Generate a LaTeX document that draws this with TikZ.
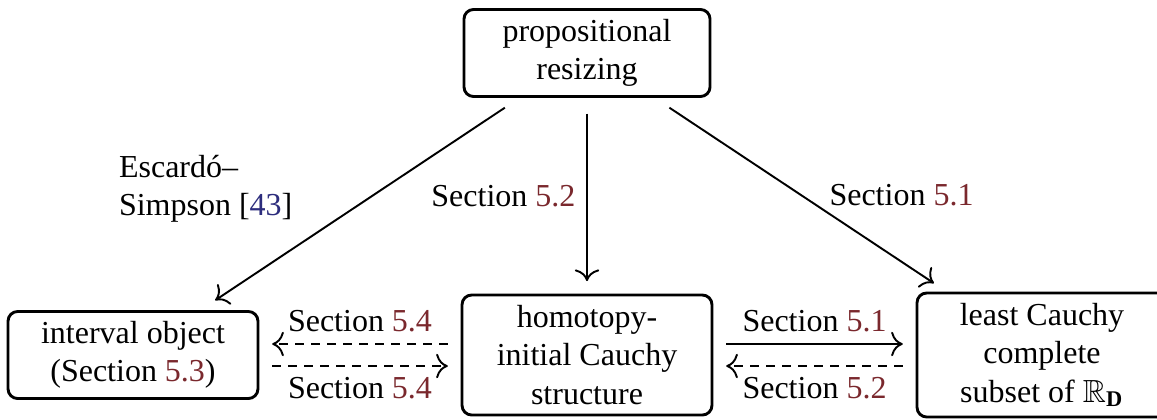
\documentclass[tikz,border=0pt]{standalone}
\usepackage{fontspec}
\setmainfont{Liberation Serif}
\usepackage{amssymb}
\usetikzlibrary{arrows.meta}
\definecolor{secred}{RGB}{122,40,45}
\definecolor{citeblue}{RGB}{45,45,125}
\newcommand{\secnum}[1]{\textcolor{secred}{#1}}
\newcommand{\citenum}[1]{\textcolor{citeblue}{#1}}
\begin{document}
\begin{tikzpicture}[x=0.3125pt, y=-0.3125pt,
  box/.style={draw, line width=0.9pt, rounded corners=3pt, align=center, inner sep=0pt},
  conn/.style={line width=0.6pt, -{To[scale=1.25]}},
  dconn/.style={conn, dash pattern=on 2.8pt off 2.2pt},
  lab/.style={inner sep=3.33pt}
]
\useasboundingbox (0,0) rectangle (1157,419);

% boxes
\node[box, minimum width=76.9pt, minimum height=27.2pt] (top) at (587,53)
  {propositional\\resizing};
\node[box, minimum width=78.1pt, minimum height=27.2pt] (intv) at (133,355)
  {interval object\\(Section \secnum{5.3})};
\node[box, minimum width=78.1pt, minimum height=37.5pt] (mid) at (587,355)
  {homotopy-\\initial Cauchy\\structure};
\node[box, minimum width=78.1pt, minimum height=38.75pt] (lcc) at (1042,355)
  {least Cauchy\\complete\\subset of $\mathbb{R}_{\mathbf{D}}$};

% arrows out of propositional resizing
\draw[conn, shorten <=5.5pt, shorten >=5.5pt] (top) -- (intv)
  node[midway, lab, anchor=east, align=left, xshift=-17.5pt, yshift=4.7pt]
  {Escardó–\\Simpson [\citenum{43}]};
\draw[conn, shorten <=4.9pt, shorten >=3.9pt] (top) -- (mid)
  node[midway, lab, left] {Section \secnum{5.2}};
\draw[conn, shorten <=5.5pt, shorten >=4.7pt] (top) -- (lcc)
  node[midway, lab, anchor=west, xshift=5.4pt] {Section \secnum{5.1}};

% arrows between the interval object and the Cauchy structure
\draw[dconn, shorten <=4pt, shorten >=4pt] ([yshift=3.44pt]mid.west) -- ([yshift=3.44pt]intv.east)
  node[midway, lab, above] {Section \secnum{5.4}};
\draw[dconn, shorten <=4pt, shorten >=4pt] ([yshift=-3.44pt]intv.east) -- ([yshift=-3.44pt]mid.west)
  node[midway, lab, below] {Section \secnum{5.4}};

% arrows between the Cauchy structure and the least complete subset
\draw[conn, shorten <=4pt, shorten >=4pt] ([yshift=3.44pt]mid.east) -- ([yshift=3.44pt]lcc.west)
  node[midway, lab, above] {Section \secnum{5.1}};
\draw[dconn, shorten <=4pt, shorten >=4pt] ([yshift=-3.44pt]lcc.west) -- ([yshift=-3.44pt]mid.east)
  node[midway, lab, below] {Section \secnum{5.2}};
\end{tikzpicture}
\end{document}
